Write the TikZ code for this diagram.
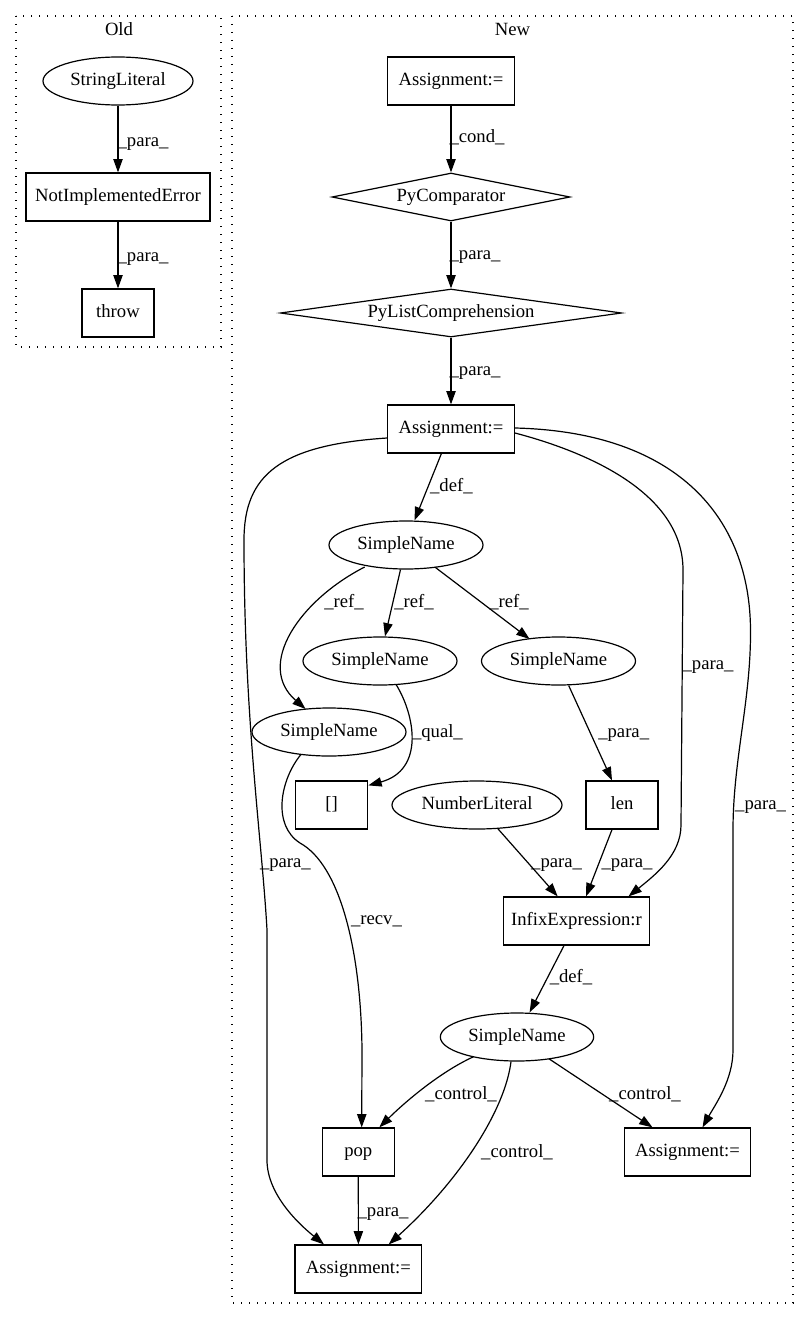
\documentclass[tikz,border=0pt]{standalone}
\usepackage{fontspec}
\setmainfont{Liberation Serif}
\usetikzlibrary{shapes.geometric,arrows.meta,calc}
\begin{document}
\begin{tikzpicture}[x=0.75pt,y=-0.75pt,
  every node/.style={font=\fontsize{14pt}{16pt}\selectfont, text height=9.8pt, text depth=3.2pt, inner sep=0pt},
  box/.style={draw, rectangle, line width=0.9pt, minimum height=36pt},
  ell/.style={draw, ellipse, line width=0.9pt, minimum height=36pt},
  dia/.style={draw, diamond, line width=0.9pt, minimum height=36pt},
  arr/.style={line width=0.9pt, -{Triangle[length=10pt,width=7pt]}},
  clus/.style={line width=0.9pt, dash pattern=on 0.9pt off 5.1pt}
]
\useasboundingbox (0,0) rectangle (809,1320);
% clusters
\draw[clus] (16,16) rectangle (221,347);
\draw[clus] (232,16) rectangle (793,1303);
\node (oldlbl) at (119,31) {Old};
\node (newlbl) at (512.5,31) {New};

% Old nodes
\node[ell, minimum width=112.5pt] (sl) at (118,81) {StringLiteral};
\node[box, minimum width=138pt] (nie) at (118,197) {NotImplementedError};
\node[box, minimum width=54pt] (thr) at (118,313) {throw};

% New nodes
\node[box, minimum width=95pt] (a1) at (451,81) {Assignment:=};
\node[dia, aspect=5, minimum width=178.5pt] (pc) at (451,197) {PyComparator};
\node[dia, aspect=7, minimum width=256pt] (plc) at (451,313) {PyListComprehension};
\node[box, minimum width=95pt] (a2) at (451,429) {Assignment:=};
\node[ell, minimum width=115.5pt] (sn1) at (406,545) {SimpleName};
\node[ell, minimum width=115.5pt] (sn2) at (380,661) {SimpleName};
\node[ell, minimum width=115.5pt] (sn3) at (558.5,661) {SimpleName};
\node[ell, minimum width=115.5pt] (sn4) at (329,732) {SimpleName};
\node[box, minimum width=54pt] (br) at (331.7,805) {[]};
\node[ell, minimum width=127.5pt] (nl) at (477,805) {NumberLiteral};
\node[box, minimum width=54pt] (len) at (622,805) {len};
\node[box, minimum width=110pt] (inf) at (576.5,921) {InfixExpression:r};
\node[ell, minimum width=115pt] (sn5) at (517,1037) {SimpleName};
\node[box, minimum width=54pt] (pop) at (358.3,1152) {pop};
\node[box, minimum width=95pt] (a3) at (687.5,1152) {Assignment:=};
\node[box, minimum width=95pt] (a4) at (358.4,1269) {Assignment:=};

% Old edges
\draw[arr] (sl) -- (nie);
\node (l1) at (143,142) {\_para\_};
\draw[arr] (nie) -- (thr);
\node (l2) at (143,257) {\_para\_};

% New edges
\draw[arr] (a1) -- (pc);
\node (l3) at (477,138) {\_cond\_};
\draw[arr] (pc) -- (plc);
\node (l4) at (475,255) {\_para\_};
\draw[arr] (plc) -- (a2);
\node (l5) at (475,371) {\_para\_};

\draw[arr] ($(a2.south)+(-9.6,0)$) -- ($(sn1.north)+(8.5,0)$);
\node (l6) at (451.4,487) {\_def\_};

\draw[arr] ($(sn1)+(-41.3,22)$) .. controls (300,600) and (255,665) .. ($(sn4)+(-23.4,-23)$);
\node (l7) at (344,603) {\_ref\_};
\draw[arr] ($(sn1.south)+(-5.5,0)$) -- ($(sn2.north)+(5,0)$);
\node (l8) at (414,603) {\_ref\_};
\draw[arr] ($(sn1)+(28.8,22)$) -- ($(sn3)+(-28.9,-22)$);
\node (l9) at (509,603) {\_ref\_};

\draw[arr] ($(sn2)+(16,23.4)$) .. controls (415,715) and (425,770) .. ($(br.north east)+(0,5)$);
\node (l10) at (437.4,733) {\_qual\_};
\draw[arr] ($(sn3.south)+(10.2,0)$) -- ($(len.north)+(-10,0)$);
\node (l11) at (623.7,733) {\_para\_};

\draw[arr] ($(nl)+(20.5,23.3)$) -- ($(inf.north)+(-18.8,0)$);
\node (l12) at (556.6,863) {\_para\_};
\draw[arr] ($(len.south)+(-10,0)$) -- ($(inf.north)+(9.5,0)$);
\node (l13) at (627,863) {\_para\_};

\draw[arr] ($(a2.east)+(0,4)$) .. controls (580,450) and (683,490) .. (683,570) -- (681,825) .. controls (681,855) and (655,875) .. ($(inf.north)+(52,0)$);
\node (l14) at (708,665) {\_para\_};
\draw[arr] ($(a2.east)+(0,-1)$) .. controls (680,432) and (750,520) .. (750.5,630) .. controls (751,700) and (733,760) .. (733,830) -- (733,1050) .. controls (733,1080) and (715,1105) .. ($(a3.north)+(15,0)$);
\node (l15) at (760.6,805) {\_para\_};
\draw[arr] ($(a2.west)+(0,9)$) .. controls (280,445) and (244,475) .. (244,540) .. controls (244,720) and (262,840) .. (267,930) -- (267,1160) .. controls (267,1195) and (300,1225) .. ($(a4.north)+(-34.4,0)$);
\node (l16) at (285.4,863) {\_para\_};

\draw[arr] ($(sn4)+(-28,22.4)$) .. controls (280,780) and (272,825) .. (300,843) .. controls (340,865) and (361,950) .. (362,1050) -- ($(pop.north)+(3.4,0)$);
\node (l17) at (376.5,920) {\_recv\_};

\draw[arr] ($(inf.south)+(-12.5,0)$) -- ($(sn5.north)+(12.6,0)$);
\node (l18) at (571,978) {\_def\_};

\draw[arr] ($(sn5)+(-43.5,19.75)$) .. controls (440,1072) and (405,1102) .. ($(pop.north)+(21,0)$);
\node (l19) at (461,1095) {\_control\_};
\draw[arr] ($(sn5.south)+(-6,0)$) .. controls (505,1110) and (460,1180) .. ($(a4.north)+(30.3,0)$);
\node (l20) at (517,1153) {\_control\_};
\draw[arr] ($(sn5)+(32,21.8)$) -- ($(a3.north)+(-35,0)$);
\node (l21) at (645,1095) {\_control\_};

\draw[arr] (pop) -- (a4);
\node (l22) at (383,1212) {\_para\_};
\end{tikzpicture}
\end{document}
